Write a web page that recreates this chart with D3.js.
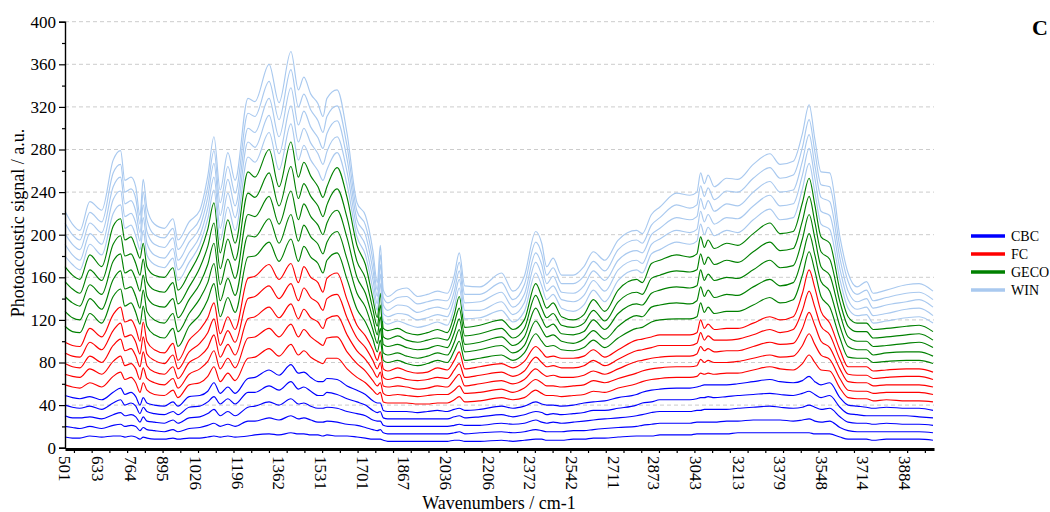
<!DOCTYPE html>
<html><head><meta charset="utf-8">
<script src="https://cdn.jsdelivr.net/npm/d3@7"></script>
<style>body{margin:0;background:#fff;} text{font-family:"Liberation Serif","Times New Roman",serif;fill:#000;}</style>
</head><body><svg id="chart" width="1050" height="512"></svg>
<script>
const wavenumbers = [500,530,560,600,648,694,724,741,766,785,802,815,830,860,900,935,955,1000,1043,1075,1100,1125,1156,1185,1237,1265,1322,1362,1410,1440,1462,1490,1519,1539,1555,1596,1636,1676,1710,1740,1758,1770,1782,1800,1840,1876,1920,1960,2000,2040,2068,2088,2110,2171,2258,2304,2350,2396,2420,2440,2466,2500,2547,2590,2628,2674,2728,2802,2825,2862,2896,2963,3017,3045,3060,3075,3090,3115,3165,3210,3272,3339,3380,3433,3470,3497,3520,3545,3580,3621,3654,3690,3728,3755,3808,3889,3940,3996];
const xTickLabels = [501,633,764,895,1026,1196,1362,1531,1701,1867,2036,2206,2372,2542,2711,2873,3043,3213,3379,3548,3714,3884];
const groupNames = ["CBC","FC","GECO","WIN"];
const groupColors = ["#0000ff","#ff0000","#008000","#a9c9ef"];
// one row per wavenumber, five samples per group
const cbcRows = [[10,20,30,40,49],[9,19,28,38,47],[9,18,28,37,46],[11,20,29,39,48],[10,18,27,36,45],[11,21,31,42,52],[11,22,33,45,56],[10,20,30,40,50],[11,21,31,42,52],[10,20,29,39,48],[8,16,24,32,40],[10,19,29,38,47],[9,17,25,34,42],[8,16,24,32,40],[8,15,23,31,39],[9,17,26,34,43],[8,15,23,31,39],[9,18,28,38,48],[9,19,29,39,49],[10,21,32,43,53],[11,23,36,48,61],[10,20,30,41,51],[11,22,34,46,57],[10,20,30,41,51],[11,25,38,52,65],[12,25,39,52,66],[13,28,43,58,73],[12,26,40,54,68],[14,30,46,62,78],[13,27,41,55,70],[13,28,42,57,71],[12,26,39,53,66],[12,24,37,49,62],[11,24,37,49,62],[12,25,38,52,65],[11,24,37,50,64],[11,22,34,46,58],[10,21,32,43,54],[9,19,30,40,50],[8,17,26,35,44],[8,16,25,33,42],[8,17,25,34,42],[7,14,21,28,35],[6,13,20,27,34],[6,13,20,27,34],[6,13,20,27,34],[6,13,20,27,33],[6,13,20,27,34],[6,13,20,27,35],[6,13,20,27,34],[7,14,21,29,36],[7,15,22,30,37],[6,13,21,28,35],[6,14,21,29,36],[7,15,23,31,39],[6,14,22,29,37],[7,15,23,31,39],[8,17,26,34,43],[8,16,24,33,41],[7,15,23,31,40],[7,15,24,32,40],[7,15,23,31,39],[8,16,24,32,40],[8,16,25,33,42],[9,17,26,35,43],[9,18,27,35,44],[10,19,28,37,47],[11,20,30,40,50],[11,21,31,42,52],[11,22,33,43,54],[12,23,34,45,55],[12,23,34,45,56],[12,23,34,45,56],[13,24,35,46,57],[13,24,35,47,58],[13,24,36,47,59],[13,24,36,48,59],[13,24,36,47,59],[13,25,36,48,59],[14,25,37,49,60],[14,26,38,50,62],[14,26,39,51,64],[14,26,38,50,62],[14,25,37,49,61],[14,26,38,51,63],[14,27,40,53,67],[13,25,38,50,62],[13,24,36,47,59],[13,25,37,49,61],[10,19,29,38,47],[8,16,24,32,40],[8,15,23,31,39],[8,15,23,30,38],[7,15,22,30,37],[8,15,23,30,38],[8,15,22,30,37],[8,15,22,29,37],[7,14,21,28,35]];
const fcRows = [[59,69,79,89,99],[57,67,76,86,96],[56,66,75,85,95],[61,74,86,99,112],[57,69,80,92,104],[67,81,96,110,125],[71,86,102,117,132],[64,77,91,104,118],[66,79,93,106,120],[61,74,86,99,112],[52,64,76,88,100],[61,75,90,104,118],[54,65,77,88,100],[50,61,71,82,92],[49,59,69,79,89],[54,65,76,87,98],[47,56,65,74,82],[59,69,80,90,101],[61,74,86,98,111],[67,81,94,108,122],[76,91,106,121,136],[62,74,85,96,107],[70,84,97,110,123],[63,75,87,99,111],[84,103,121,140,159],[85,104,123,142,161],[93,112,132,152,172],[86,104,122,140,158],[97,116,135,154,173],[87,104,121,138,155],[91,111,130,150,170],[85,104,122,141,160],[81,99,118,136,155],[79,96,112,129,146],[84,103,121,140,159],[84,104,124,144,164],[74,90,106,122,139],[66,79,91,103,115],[61,72,83,94,105],[54,63,73,82,92],[50,58,66,74,82],[52,61,71,80,90],[43,51,58,66,74],[42,49,57,64,72],[42,50,58,66,75],[42,49,57,64,72],[41,48,55,63,70],[41,49,56,64,71],[42,50,58,66,75],[42,50,57,65,73],[45,54,64,73,82],[48,58,69,79,90],[43,51,58,66,74],[44,52,60,68,76],[47,55,63,71,79],[45,52,60,67,75],[47,56,64,72,81],[54,64,74,85,95],[51,61,70,80,90],[49,58,67,76,85],[49,58,68,77,86],[48,57,66,75,84],[49,58,66,75,84],[50,59,68,77,86],[53,63,72,82,92],[52,61,69,77,85],[56,65,74,83,92],[60,70,81,91,101],[62,72,82,92,102],[64,74,84,94,104],[65,75,85,96,106],[66,76,86,96,106],[66,76,86,96,106],[67,77,88,98,108],[70,83,95,108,120],[69,80,91,101,112],[70,82,93,105,116],[69,80,90,101,111],[70,80,91,101,112],[70,81,91,102,112],[73,84,95,106,117],[76,87,99,111,123],[74,85,97,108,120],[73,86,98,111,123],[79,96,112,129,145],[87,107,127,147,167],[80,97,115,132,150],[73,87,100,114,128],[72,83,94,106,117],[56,65,74,83,92],[47,54,62,69,76],[46,53,61,68,76],[46,53,61,68,76],[44,51,58,65,72],[45,52,59,66,73],[44,52,59,67,74],[44,52,59,67,74],[43,50,57,64,71]];
const gecoRows = [[114,128,142,156,170],[109,122,136,149,162],[108,120,133,145,158],[126,140,153,167,181],[117,130,144,157,170],[142,158,175,191,208],[149,166,182,199,215],[133,149,164,180,195],[136,151,167,182,198],[127,142,158,173,188],[116,131,147,162,178],[133,148,162,177,192],[114,128,142,156,170],[106,120,134,148,162],[103,117,132,146,160],[112,126,140,155,169],[95,109,122,135,148],[114,126,139,151,164],[125,140,154,169,183],[139,155,172,189,205],[154,173,192,211,230],[123,138,153,168,183],[141,159,177,196,214],[127,143,159,176,192],[179,199,219,239,259],[180,198,217,235,254],[193,215,236,258,280],[175,192,210,227,245],[196,219,241,264,287],[175,194,214,234,254],[189,209,229,248,268],[179,198,217,236,255],[173,191,209,227,245],[164,182,200,217,235],[176,193,211,228,245],[183,203,223,243,263],[158,177,197,216,235],[130,145,160,175,190],[118,132,145,159,172],[102,111,121,130,140],[90,98,106,114,122],[101,112,123,134,145],[82,89,97,104,112],[80,87,95,102,110],[82,89,97,105,112],[79,86,94,101,108],[77,84,92,99,106],[79,86,93,101,108],[82,89,96,103,111],[80,87,94,101,108],[91,99,108,117,125],[100,111,121,131,142],[82,90,97,105,113],[84,92,99,107,115],[87,96,104,112,120],[82,89,96,103,111],[89,96,104,112,120],[107,119,131,143,154],[100,111,121,131,142],[95,104,113,122,131],[96,106,116,126,136],[92,100,107,115,123],[91,98,106,113,120],[94,102,109,117,125],[101,110,120,129,139],[94,102,111,119,128],[103,114,126,137,148],[112,124,135,146,158],[113,123,134,144,155],[118,132,145,159,173],[120,134,148,162,176],[121,136,151,166,181],[121,135,150,165,179],[123,138,152,167,182],[136,151,167,182,198],[127,142,157,172,188],[132,148,163,179,195],[126,141,157,172,187],[128,144,160,176,192],[128,143,159,174,190],[134,151,167,184,201],[141,158,176,193,211],[136,152,169,185,201],[139,155,171,187,203],[162,179,196,213,230],[184,201,219,236,253],[166,181,197,212,228],[142,156,170,184,198],[132,147,162,177,192],[103,114,126,137,148],[85,95,104,114,123],[84,92,100,109,117],[84,92,100,109,117],[80,87,95,103,111],[81,89,96,104,112],[82,90,98,106,114],[82,90,99,107,115],[79,86,94,101,109]];
const winRows = [[180,191,201,211,222],[172,181,191,200,210],[167,176,186,195,204],[191,201,211,221,231],[181,191,202,212,223],[220,233,245,258,270],[228,241,254,266,279],[206,217,229,240,251],[209,220,232,243,254],[199,211,222,234,245],[186,194,202,210,218],[204,216,228,240,252],[181,192,203,214,225],[172,181,191,200,210],[169,178,188,197,206],[178,187,197,206,215],[157,167,176,186,195],[174,183,193,202,212],[191,199,207,215,223],[215,225,235,245,255],[242,254,267,279,292],[195,206,218,230,242],[226,239,252,264,277],[204,216,227,239,251],[273,287,300,314,328],[268,282,296,311,325],[296,312,328,344,360],[261,276,292,308,324],[304,321,338,355,372],[270,287,303,320,336],[284,300,316,332,348],[270,286,301,317,332],[260,276,291,307,323],[251,266,281,296,311],[261,278,295,311,328],[277,292,307,321,336],[247,259,271,283,295],[198,206,214,222,230],[181,190,200,209,218],[149,158,167,176,185],[129,135,142,148,155],[154,163,172,181,190],[119,126,134,141,148],[116,123,129,136,142],[119,126,134,141,148],[116,125,133,142,150],[113,120,127,135,142],[115,122,130,137,144],[118,125,132,139,147],[115,123,130,138,145],[132,140,147,155,162],[150,158,166,174,183],[121,129,136,144,152],[122,129,137,144,151],[129,137,146,155,164],[118,125,132,139,147],[128,136,144,153,161],[164,174,183,193,203],[152,162,172,182,192],[139,147,154,162,170],[144,152,161,169,178],[131,139,146,154,162],[128,137,145,154,162],[134,143,152,161,170],[148,157,166,175,184],[137,147,157,166,176],[157,167,176,186,195],[167,176,185,195,204],[164,173,183,192,201],[182,191,200,209,219],[186,196,206,216,226],[193,204,216,228,239],[191,202,214,225,237],[194,205,217,228,240],[210,222,234,246,258],[200,212,224,236,248],[207,219,232,244,256],[199,210,222,233,245],[204,216,229,241,253],[202,215,227,240,252],[214,227,240,253,266],[224,237,250,263,276],[214,227,240,253,266],[216,229,242,256,269],[243,256,269,282,295],[267,281,294,308,322],[240,253,265,278,290],[210,222,235,247,259],[205,218,231,245,258],[158,168,178,188,198],[131,139,147,156,164],[124,130,137,144,151],[125,132,140,148,156],[117,124,131,138,145],[119,126,134,141,148],[122,130,137,145,153],[123,131,139,146,154],[117,124,132,139,147]];

const groupRows = [cbcRows, fcRows, gecoRows, winRows];

const svg = d3.select("#chart");
const x = d3.scaleLinear().domain([500, 4000]).range([65, 934]);
const y = d3.scaleLinear().domain([0, 400]).range([447.7, 21.7]);

// grid
svg.append("g").selectAll("line").data(d3.range(40, 401, 40)).join("line")
  .attr("x1", 65).attr("x2", 934).attr("y1", d => y(d)).attr("y2", d => y(d))
  .attr("stroke", "#cccccc").attr("stroke-width", 1).attr("stroke-dasharray", "4,3");

// series
const line = d3.line().x(d => x(d[0])).y(d => y(d[1])).curve(d3.curveMonotoneX);
const n = wavenumbers.length;
groupRows.forEach((rows, g) => {
  for (let k = 0; k < 5; k++) {
    const pts = [];
    for (let i = 0; i < Math.min(n, rows.length); i++) pts.push([wavenumbers[i], rows[i][k]]);
    svg.append("path").attr("d", line(pts)).attr("fill", "none")
      .attr("stroke", groupColors[g]).attr("stroke-width", 1.15);
  }
});

// y axis
const yAxis = svg.append("g").attr("transform", "translate(65,0)")
  .call(d3.axisLeft(y).tickValues(d3.range(0, 401, 40)).tickSize(6).tickPadding(3).tickFormat(d3.format("d")));
yAxis.select(".domain").attr("stroke", "#000").attr("stroke-width", 1.4);
yAxis.selectAll(".tick line").attr("stroke", "#000").attr("stroke-width", 1.2);
yAxis.selectAll("text").style("font-family", "'Liberation Serif',serif").style("font-size", "17px");
const yMinor = svg.append("g").attr("transform", "translate(65,0)")
  .call(d3.axisLeft(y).tickValues(d3.range(20, 400, 40)).tickSize(3).tickFormat(""));
yMinor.select(".domain").remove();
yMinor.selectAll(".tick line").attr("stroke", "#000").attr("stroke-width", 1.2);

// x axis
const xAxis = svg.append("g").attr("transform", "translate(0,449)")
  .call(d3.axisBottom(x).tickValues(d3.range(536, 4000, 71.4)).tickSize(4).tickFormat("").tickSizeOuter(0));
xAxis.select(".domain").attr("stroke", "#000").attr("stroke-width", 3);
xAxis.selectAll(".tick line").attr("stroke", "#000").attr("stroke-width", 1.2);

svg.append("g").selectAll("text").data(xTickLabels).join("text")
  .attr("transform", d => `translate(${x(d)},456) rotate(90)`)
  .attr("text-anchor", "start").attr("dy", "0.35em")
  .style("font-size", "17px").text(d => d);

// titles
svg.append("text").attr("x", 499).attr("y", 509).attr("text-anchor", "middle")
  .style("font-size", "18px").text("Wavenumbers / cm-1");
svg.append("text").attr("transform", "translate(24,223) rotate(-90)").attr("text-anchor", "middle")
  .style("font-size", "18px").text("Photoacoustic signal / a.u.");

// legend
const lg = svg.append("g");
groupNames.forEach((name, i) => {
  const yy = 236 + i * 18;
  lg.append("line").attr("x1", 971).attr("x2", 1005).attr("y1", yy).attr("y2", yy)
    .attr("stroke", groupColors[i]).attr("stroke-width", 3.5);
  lg.append("text").attr("x", 1011).attr("y", yy).attr("dy", "0.35em")
    .style("font-size", "14px").text(name);
});

// panel label
svg.append("text").attr("x", 1032).attr("y", 35).style("font-size", "22px").style("font-weight", "bold").text("C");
</script>
</body></html>
